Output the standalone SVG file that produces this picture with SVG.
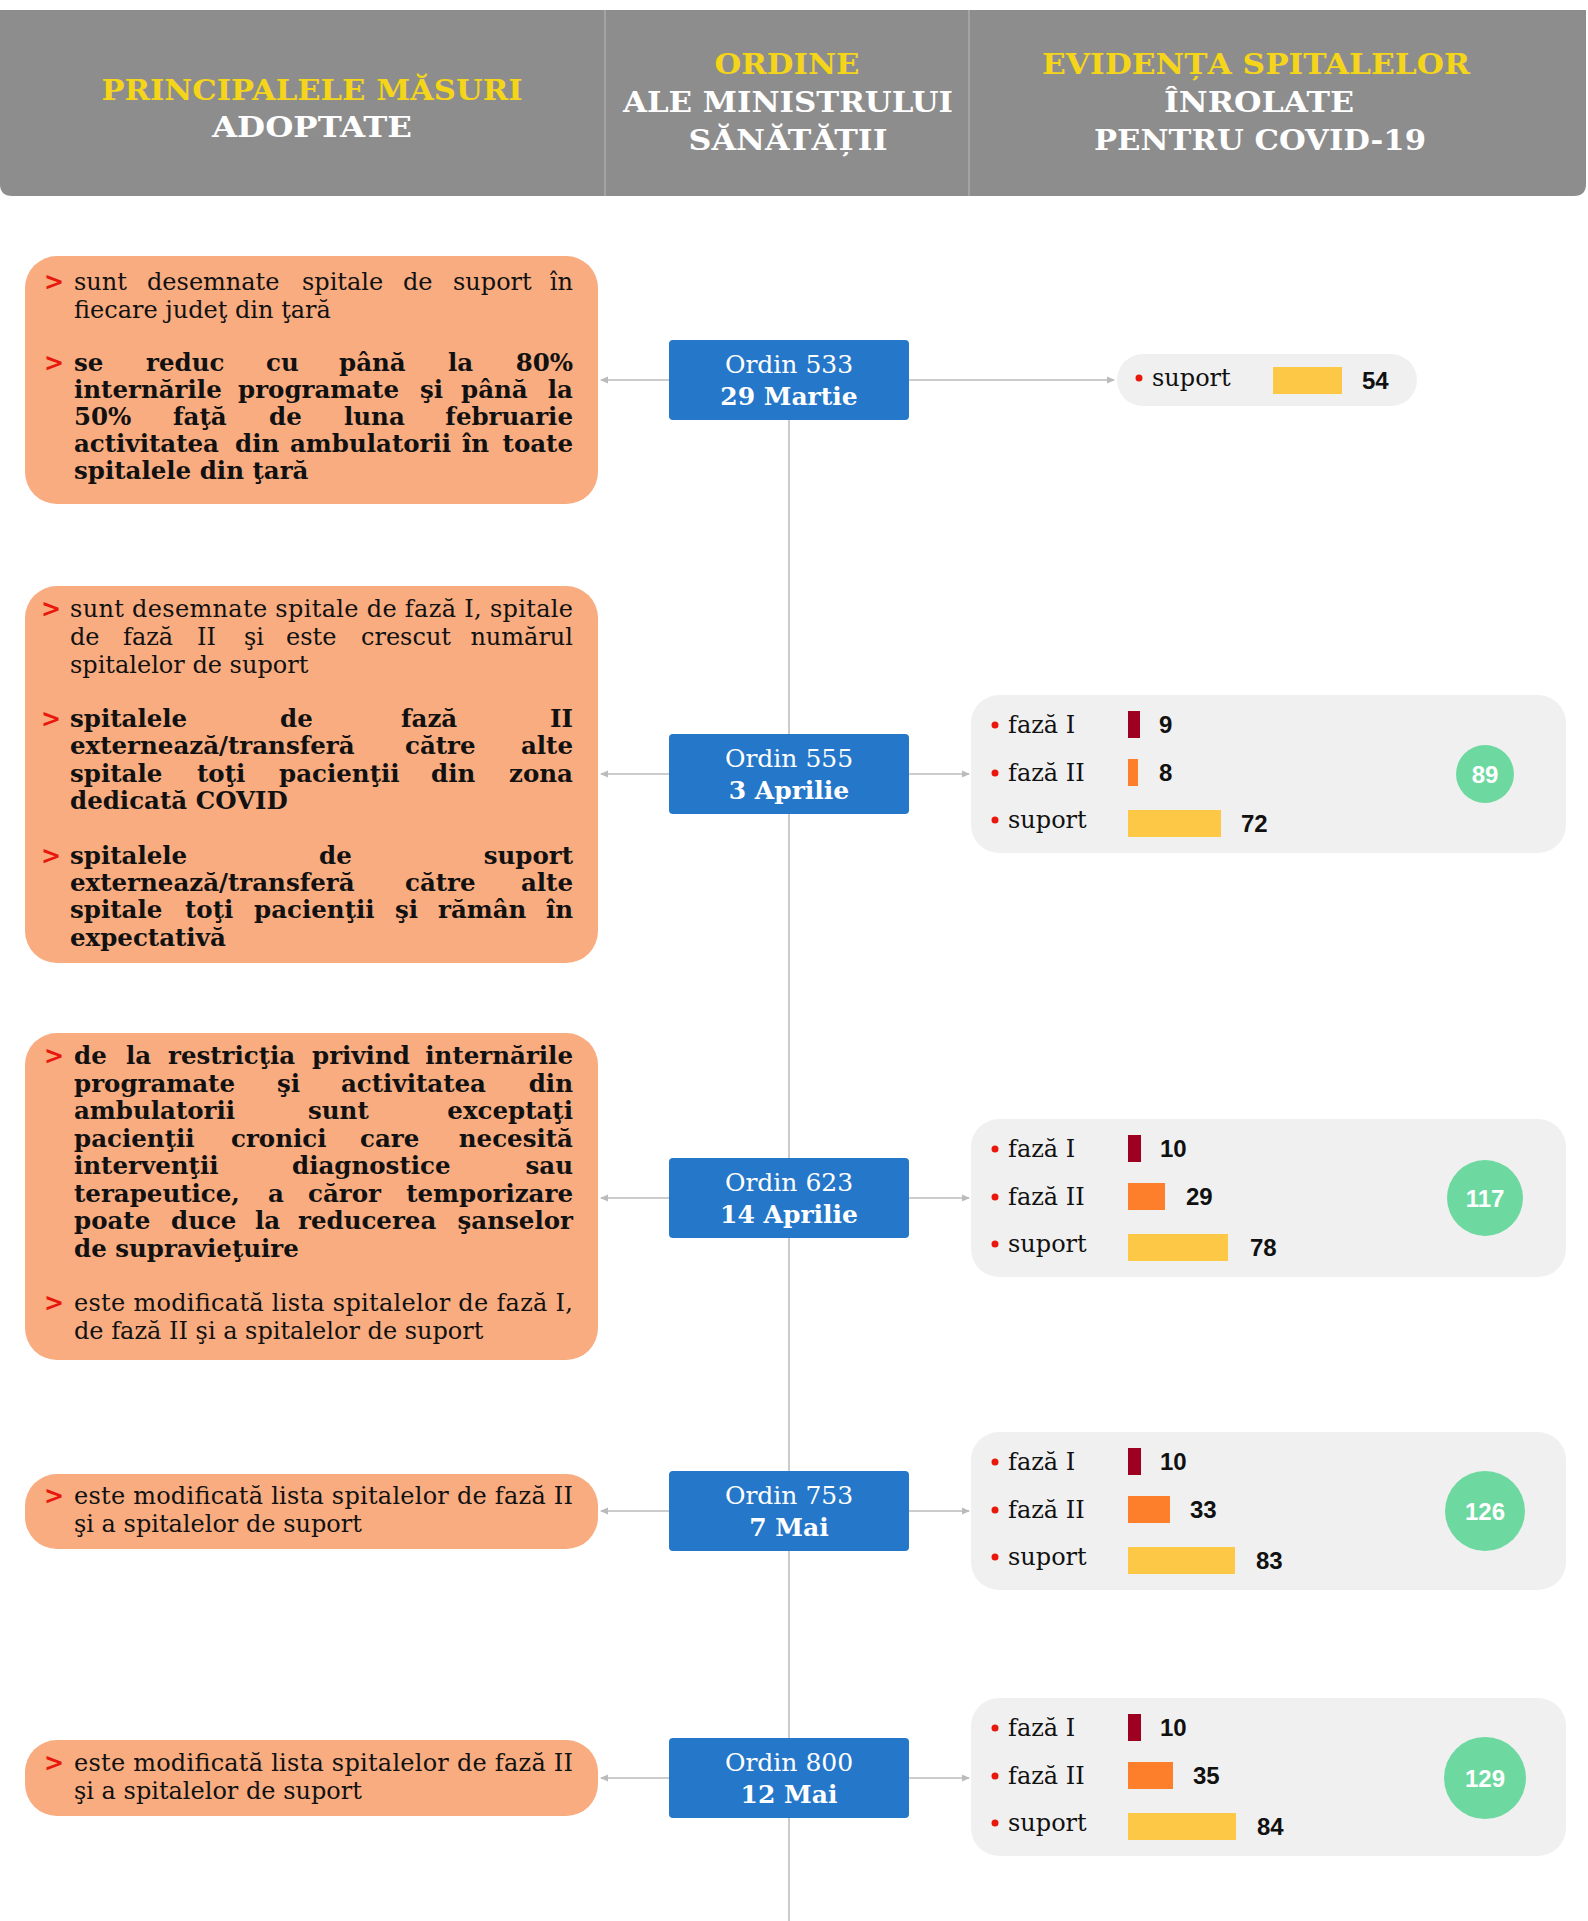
<svg xmlns="http://www.w3.org/2000/svg" width="1588" height="1921" viewBox="0 0 1588 1921">
<style>
.hy{font-family:"DejaVu Serif",serif;font-weight:bold;font-size:28px;fill:#F5D51A;text-anchor:middle}
.hw{font-family:"DejaVu Serif",serif;font-weight:bold;font-size:28px;fill:#FFFFFF;text-anchor:middle}
.ob{fill:#F8AC80}
.r{font-family:"DejaVu Serif",serif;font-size:24px;fill:#111}
.b{font-family:"DejaVu Serif",serif;font-weight:bold;font-size:24.5px;fill:#111}
.e{text-anchor:end}
.ch{font-family:"DejaVu Sans",sans-serif;font-weight:bold;font-size:24px;fill:#E8190C}
.bb{fill:#2577C9}
.o1{font-family:"DejaVu Serif",serif;font-size:25px;fill:#fff;text-anchor:middle}
.o2{font-family:"DejaVu Serif",serif;font-weight:bold;font-size:25px;fill:#fff;text-anchor:middle}
.pn{fill:#F0F0F0}
.lb{font-family:"DejaVu Serif",serif;font-size:24px;fill:#111}
.dot{fill:#E8190C}
.num{font-family:"Liberation Sans",Arial,sans-serif;font-weight:bold;font-size:24px;fill:#111}
.f1{fill:#9E0022}
.f2{fill:#FD7F2C}
.sp{fill:#FCC845}
.gc{fill:#6DD9A0}
.gt{font-family:"Liberation Sans",Arial,sans-serif;font-weight:bold;font-size:24px;fill:#fff;text-anchor:middle}
.cn{stroke:#BBBBBB;stroke-width:1.5;fill:none}
</style>
<defs>
<marker id="ah" markerWidth="8" markerHeight="8" refX="7" refY="4" orient="auto" markerUnits="userSpaceOnUse">
<path d="M0,0.5 L8,4 L0,7.5 Z" fill="#BBBBBB"/>
</marker>
</defs>
<rect width="1588" height="1921" fill="#fff"/>
<g id="header">
<path d="M0,10 H1586 V184 Q1586,196 1574,196 H12 Q0,196 0,184 Z" fill="#8D8D8D"/>
<line x1="605" y1="10" x2="605" y2="196" stroke="#B8B8B8" stroke-width="1"/>
<line x1="969" y1="10" x2="969" y2="196" stroke="#B8B8B8" stroke-width="1"/>
<text class="hy" x="312" y="100" textLength="421" lengthAdjust="spacingAndGlyphs">PRINCIPALELE MĂSURI</text>
<text class="hw" x="312" y="137" textLength="200" lengthAdjust="spacingAndGlyphs">ADOPTATE</text>
<text class="hy" x="787" y="74" textLength="145" lengthAdjust="spacingAndGlyphs">ORDINE</text>
<text class="hw" x="788" y="112" textLength="330" lengthAdjust="spacingAndGlyphs">ALE MINISTRULUI</text>
<text class="hw" x="788" y="150" textLength="199" lengthAdjust="spacingAndGlyphs">SĂNĂTĂȚII</text>
<text class="hy" x="1256" y="74" textLength="428" lengthAdjust="spacingAndGlyphs">EVIDENȚA SPITALELOR</text>
<text class="hw" x="1259" y="112" textLength="190" lengthAdjust="spacingAndGlyphs">ÎNROLATE</text>
<text class="hw" x="1260" y="150" textLength="332" lengthAdjust="spacingAndGlyphs">PENTRU COVID-19</text>
</g>
<g id="connectors">
<line class="cn" x1="789" y1="420" x2="789" y2="1921"/>
<line class="cn" x1="669" y1="380" x2="601" y2="380" marker-end="url(#ah)"/>
<line class="cn" x1="909" y1="380" x2="1114" y2="380" marker-end="url(#ah)"/>
<line class="cn" x1="669" y1="774" x2="601" y2="774" marker-end="url(#ah)"/>
<line class="cn" x1="909" y1="774" x2="969" y2="774" marker-end="url(#ah)"/>
<line class="cn" x1="669" y1="1198" x2="601" y2="1198" marker-end="url(#ah)"/>
<line class="cn" x1="909" y1="1198" x2="969" y2="1198" marker-end="url(#ah)"/>
<line class="cn" x1="669" y1="1511" x2="601" y2="1511" marker-end="url(#ah)"/>
<line class="cn" x1="909" y1="1511" x2="969" y2="1511" marker-end="url(#ah)"/>
<line class="cn" x1="669" y1="1778" x2="601" y2="1778" marker-end="url(#ah)"/>
<line class="cn" x1="909" y1="1778" x2="969" y2="1778" marker-end="url(#ah)"/>
</g>
<g id="masuri1">
<rect class="ob" x="25" y="256" width="573" height="248" rx="32"/>
<text class="ch" x="44" y="290">&gt;</text>
<text class="r" y="290"><tspan x="74">sunt</tspan><tspan x="147">desemnate</tspan><tspan x="302">spitale</tspan><tspan x="403">de</tspan><tspan x="453">suport</tspan><tspan class="e" x="573">în</tspan></text>
<text class="r" x="74" y="318">fiecare judeţ din ţară</text>
<text class="ch" x="44" y="371">&gt;</text>
<text class="b" y="371"><tspan x="74">se</tspan><tspan x="146">reduc</tspan><tspan x="266">cu</tspan><tspan x="339">până</tspan><tspan x="448">la</tspan><tspan class="e" x="573">80%</tspan></text>
<text class="b" y="398"><tspan x="74">internările</tspan><tspan x="238">programate</tspan><tspan x="420">şi</tspan><tspan x="461">până</tspan><tspan class="e" x="573">la</tspan></text>
<text class="b" y="425"><tspan x="74">50%</tspan><tspan x="173">faţă</tspan><tspan x="269">de</tspan><tspan x="344">luna</tspan><tspan class="e" x="573">februarie</tspan></text>
<text class="b" y="452"><tspan x="74">activitatea</tspan><tspan x="235">din</tspan><tspan x="290">ambulatorii</tspan><tspan x="462">în</tspan><tspan class="e" x="573">toate</tspan></text>
<text class="b" x="74" y="479">spitalele din ţară</text>
</g>
<g id="masuri2">
<rect class="ob" x="25" y="586" width="573" height="377" rx="32"/>
<text class="ch" x="41" y="617">&gt;</text>
<text class="r" x="70" y="617" textLength="503" lengthAdjust="spacing">sunt desemnate spitale de fază I, spitale</text>
<text class="r" y="645"><tspan x="70">de</tspan><tspan x="123">fază</tspan><tspan x="197">II</tspan><tspan x="244">şi</tspan><tspan x="286">este</tspan><tspan x="361">crescut</tspan><tspan class="e" x="573">numărul</tspan></text>
<text class="r" x="70" y="673">spitalelor de suport</text>
<text class="ch" x="41" y="727">&gt;</text>
<text class="b" y="727"><tspan x="70">spitalele</tspan><tspan x="280">de</tspan><tspan x="401">fază</tspan><tspan class="e" x="573">II</tspan></text>
<text class="b" y="754"><tspan x="70">externează/transferă</tspan><tspan x="405">către</tspan><tspan class="e" x="573">alte</tspan></text>
<text class="b" y="782"><tspan x="70">spitale</tspan><tspan x="197">toţi</tspan><tspan x="279">pacienţii</tspan><tspan x="431">din</tspan><tspan class="e" x="573">zona</tspan></text>
<text class="b" x="70" y="809">dedicată COVID</text>
<text class="ch" x="41" y="864">&gt;</text>
<text class="b" y="864"><tspan x="70">spitalele</tspan><tspan x="319">de</tspan><tspan class="e" x="573">suport</tspan></text>
<text class="b" y="891"><tspan x="70">externează/transferă</tspan><tspan x="405">către</tspan><tspan class="e" x="573">alte</tspan></text>
<text class="b" y="918"><tspan x="70">spitale</tspan><tspan x="185">toţi</tspan><tspan x="254">pacienţii</tspan><tspan x="395">şi</tspan><tspan x="438">rămân</tspan><tspan class="e" x="573">în</tspan></text>
<text class="b" x="70" y="946">expectativă</text>
</g>
<g id="masuri3">
<rect class="ob" x="25" y="1033" width="573" height="327" rx="32"/>
<text class="ch" x="44" y="1064">&gt;</text>
<text class="b" y="1064"><tspan x="74">de</tspan><tspan x="126">la</tspan><tspan x="168">restricţia</tspan><tspan x="312">privind</tspan><tspan class="e" x="573">internările</tspan></text>
<text class="b" y="1092"><tspan x="74">programate</tspan><tspan x="277">şi</tspan><tspan x="341">activitatea</tspan><tspan class="e" x="573">din</tspan></text>
<text class="b" y="1119"><tspan x="74">ambulatorii</tspan><tspan x="308">sunt</tspan><tspan class="e" x="573">exceptaţi</tspan></text>
<text class="b" y="1147"><tspan x="74">pacienţii</tspan><tspan x="231">cronici</tspan><tspan x="360">care</tspan><tspan class="e" x="573">necesită</tspan></text>
<text class="b" y="1174"><tspan x="74">intervenţii</tspan><tspan x="292">diagnostice</tspan><tspan class="e" x="573">sau</tspan></text>
<text class="b" y="1202"><tspan x="74">terapeutice,</tspan><tspan x="268">a</tspan><tspan x="308">căror</tspan><tspan class="e" x="573">temporizare</tspan></text>
<text class="b" y="1229"><tspan x="74">poate</tspan><tspan x="171">duce</tspan><tspan x="255">la</tspan><tspan x="298">reducerea</tspan><tspan class="e" x="573">şanselor</tspan></text>
<text class="b" x="74" y="1257">de supravieţuire</text>
<text class="ch" x="44" y="1311">&gt;</text>
<text class="r" x="74" y="1311" textLength="499" lengthAdjust="spacing">este modificată lista spitalelor de fază I,</text>
<text class="r" x="74" y="1339">de fază II şi a spitalelor de suport</text>
</g>
<g id="masuri4">
<rect class="ob" x="25" y="1474" width="573" height="75" rx="32"/>
<text class="ch" x="44" y="1504">&gt;</text>
<text class="r" x="74" y="1504" textLength="499" lengthAdjust="spacing">este modificată lista spitalelor de fază II</text>
<text class="r" x="74" y="1532">şi a spitalelor de suport</text>
</g>
<g id="masuri5">
<rect class="ob" x="25" y="1740" width="573" height="76" rx="32"/>
<text class="ch" x="44" y="1771">&gt;</text>
<text class="r" x="74" y="1771" textLength="499" lengthAdjust="spacing">este modificată lista spitalelor de fază II</text>
<text class="r" x="74" y="1799">şi a spitalelor de suport</text>
</g>
<g id="ordin533">
<rect class="bb" x="669" y="340" width="240" height="80" rx="4"/>
<text class="o1" x="789" y="373">Ordin 533</text>
<text class="o2" x="789" y="405">29 Martie</text>
</g>
<g id="ordin555">
<rect class="bb" x="669" y="734" width="240" height="80" rx="4"/>
<text class="o1" x="789" y="767">Ordin 555</text>
<text class="o2" x="789" y="799">3 Aprilie</text>
</g>
<g id="ordin623">
<rect class="bb" x="669" y="1158" width="240" height="80" rx="4"/>
<text class="o1" x="789" y="1191">Ordin 623</text>
<text class="o2" x="789" y="1223">14 Aprilie</text>
</g>
<g id="ordin753">
<rect class="bb" x="669" y="1471" width="240" height="80" rx="4"/>
<text class="o1" x="789" y="1504">Ordin 753</text>
<text class="o2" x="789" y="1536">7 Mai</text>
</g>
<g id="ordin800">
<rect class="bb" x="669" y="1738" width="240" height="80" rx="4"/>
<text class="o1" x="789" y="1771">Ordin 800</text>
<text class="o2" x="789" y="1803">12 Mai</text>
</g>
<g id="spitale1">
<rect class="pn" x="1117" y="354" width="300" height="52" rx="26"/>
<circle class="dot" cx="1139" cy="378" r="3.5"/>
<text class="lb" x="1152" y="386">suport</text>
<rect class="sp" x="1273" y="367" width="69" height="27"/>
<text class="num" x="1362" y="389">54</text>
</g>
<g id="spitale2">
<rect class="pn" x="971" y="695" width="595" height="158" rx="28"/>
<circle class="dot" cx="995" cy="725" r="3.5"/>
<text class="lb" x="1008" y="733">fază I</text>
<rect class="f1" x="1128" y="711" width="12" height="27"/>
<text class="num" x="1159" y="733">9</text>
<circle class="dot" cx="995" cy="773" r="3.5"/>
<text class="lb" x="1008" y="781">fază II</text>
<rect class="f2" x="1128" y="759" width="10" height="27"/>
<text class="num" x="1159" y="781">8</text>
<circle class="dot" cx="995" cy="820" r="3.5"/>
<text class="lb" x="1008" y="828">suport</text>
<rect class="sp" x="1128" y="810" width="93" height="27"/>
<text class="num" x="1241" y="832">72</text>
<circle class="gc" cx="1485" cy="774" r="29"/>
<text class="gt" x="1485" y="783">89</text>
</g>
<g id="spitale3">
<rect class="pn" x="971" y="1119" width="595" height="158" rx="28"/>
<circle class="dot" cx="995" cy="1149" r="3.5"/>
<text class="lb" x="1008" y="1157">fază I</text>
<rect class="f1" x="1128" y="1135" width="13" height="27"/>
<text class="num" x="1160" y="1157">10</text>
<circle class="dot" cx="995" cy="1197" r="3.5"/>
<text class="lb" x="1008" y="1205">fază II</text>
<rect class="f2" x="1128" y="1183" width="37" height="27"/>
<text class="num" x="1186" y="1205">29</text>
<circle class="dot" cx="995" cy="1244" r="3.5"/>
<text class="lb" x="1008" y="1252">suport</text>
<rect class="sp" x="1128" y="1234" width="100" height="27"/>
<text class="num" x="1250" y="1256">78</text>
<circle class="gc" cx="1485" cy="1198" r="38"/>
<text class="gt" x="1485" y="1207">117</text>
</g>
<g id="spitale4">
<rect class="pn" x="971" y="1432" width="595" height="158" rx="28"/>
<circle class="dot" cx="995" cy="1462" r="3.5"/>
<text class="lb" x="1008" y="1470">fază I</text>
<rect class="f1" x="1128" y="1448" width="13" height="27"/>
<text class="num" x="1160" y="1470">10</text>
<circle class="dot" cx="995" cy="1510" r="3.5"/>
<text class="lb" x="1008" y="1518">fază II</text>
<rect class="f2" x="1128" y="1496" width="42" height="27"/>
<text class="num" x="1190" y="1518">33</text>
<circle class="dot" cx="995" cy="1557" r="3.5"/>
<text class="lb" x="1008" y="1565">suport</text>
<rect class="sp" x="1128" y="1547" width="107" height="27"/>
<text class="num" x="1256" y="1569">83</text>
<circle class="gc" cx="1485" cy="1511" r="40"/>
<text class="gt" x="1485" y="1520">126</text>
</g>
<g id="spitale5">
<rect class="pn" x="971" y="1698" width="595" height="158" rx="28"/>
<circle class="dot" cx="995" cy="1728" r="3.5"/>
<text class="lb" x="1008" y="1736">fază I</text>
<rect class="f1" x="1128" y="1714" width="13" height="27"/>
<text class="num" x="1160" y="1736">10</text>
<circle class="dot" cx="995" cy="1776" r="3.5"/>
<text class="lb" x="1008" y="1784">fază II</text>
<rect class="f2" x="1128" y="1762" width="45" height="27"/>
<text class="num" x="1193" y="1784">35</text>
<circle class="dot" cx="995" cy="1823" r="3.5"/>
<text class="lb" x="1008" y="1831">suport</text>
<rect class="sp" x="1128" y="1813" width="108" height="27"/>
<text class="num" x="1257" y="1835">84</text>
<circle class="gc" cx="1485" cy="1778" r="41"/>
<text class="gt" x="1485" y="1787">129</text>
</g>
</svg>
